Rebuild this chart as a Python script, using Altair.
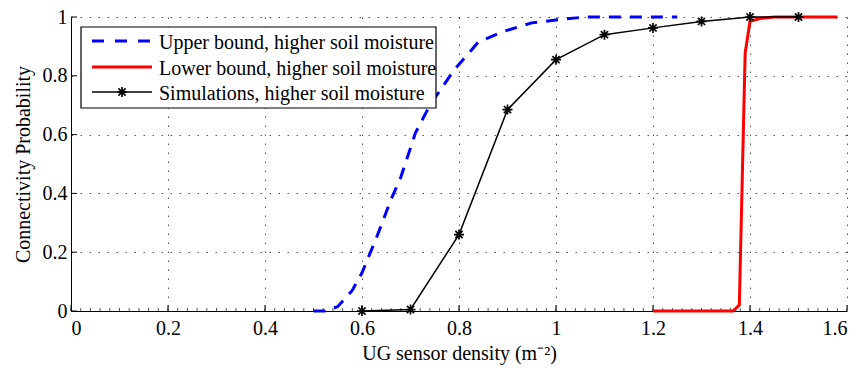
import altair as alt
import pandas as pd

# ---------------- data ----------------
series_names = [
    "Upper bound, higher soil moisture",
    "Lower bound, higher soil moisture",
    "Simulations, higher soil moisture",
]

upper_x = [0.50, 0.525, 0.55, 0.58, 0.60, 0.63, 0.66, 0.68, 0.71, 0.74, 0.79, 0.84, 0.89, 0.95, 1.00, 1.06, 1.25]
upper_y = [0.00, 0.00, 0.015, 0.07, 0.13, 0.25, 0.38, 0.455, 0.605, 0.70, 0.82, 0.915, 0.95, 0.98, 0.99, 1.00, 1.00]

lower_x = [1.20, 1.365, 1.378, 1.39, 1.40, 1.42, 1.45, 1.58]
lower_y = [0.00, 0.00, 0.02, 0.877, 0.985, 0.995, 1.00, 1.00]

sim_x = [0.6, 0.7, 0.8, 0.9, 1.0, 1.1, 1.2, 1.3, 1.4, 1.5]
sim_y = [0.0, 0.005, 0.26, 0.685, 0.855, 0.94, 0.963, 0.985, 1.0, 1.0]

x_ticks = [0, 0.2, 0.4, 0.6, 0.8, 1.0, 1.2, 1.4, 1.6]
y_ticks = [0, 0.2, 0.4, 0.6, 0.8, 1.0]
x_minor = [round(i * 0.02, 2) for i in range(81)]

x_title = "UG sensor density (m\u207b\u00b2)"
y_title = "Connectivity Probability"

# ---------------- styling ----------------
W, H = 776, 294
FONT = "Liberation Serif"
FS = 20
ASTERISK = "M-1,0L1,0M0,-1L0,1M-0.72,-0.72L0.72,0.72M-0.72,0.72L0.72,-0.72"

xs = alt.Scale(domain=[0, 1.6], nice=False, zero=False)
ys = alt.Scale(domain=[0, 1], nice=False)

x_axis = alt.Axis(values=x_ticks, format="~g", title=x_title, labelPadding=7,
                  titlePadding=5)
y_axis = alt.Axis(values=y_ticks, format="~g", title=y_title, labelPadding=4,
                  titlePadding=9)

def xenc():
    return alt.X("x:Q", scale=xs, axis=x_axis)

def yenc():
    return alt.Y("y:Q", scale=ys, axis=y_axis)

upper_df = pd.DataFrame({"x": upper_x, "y": upper_y})
lower_df = pd.DataFrame({"x": lower_x, "y": lower_y})
sim_df = pd.DataFrame({"x": sim_x, "y": sim_y})

upper = alt.Chart(upper_df).mark_line(color="#0000ff", strokeWidth=3, strokeDash=[12, 9]).encode(
    x=xenc(), y=yenc())
lower = alt.Chart(lower_df).mark_line(color="#ff0000", strokeWidth=3).encode(
    x=xenc(), y=yenc())
sim_line = alt.Chart(sim_df).mark_line(color="black", strokeWidth=1.5).encode(
    x=xenc(), y=yenc())
sim_pts = alt.Chart(sim_df).mark_point(shape=ASTERISK, size=100, filled=False,
                                       stroke="black", strokeWidth=1.7, opacity=1).encode(
    x=xenc(), y=yenc())

# inward ticks
xt_df = pd.DataFrame({"x": x_ticks})
xm_df = pd.DataFrame({"x": x_minor})
yt_df = pd.DataFrame({"y": y_ticks})
x_major = alt.Chart(xt_df).mark_rule(color="black", strokeWidth=1).encode(
    x=xenc(), y=alt.value(H), y2=alt.value(H - 6))
x_min = alt.Chart(xm_df).mark_rule(color="#555", strokeWidth=1).encode(
    x=xenc(), y=alt.value(H), y2=alt.value(H - 3))
y_major = alt.Chart(yt_df).mark_rule(color="black", strokeWidth=1).encode(
    y=yenc(), x=alt.value(0), x2=alt.value(6))

# legend
one = pd.DataFrame({"a": [0]})
LX0, LX1, LY0, LY1 = 10, 365, 10, 91
row_y = [24, 50, 75]
line_x0, line_x1, text_x = 21, 81, 88
leg_box = alt.Chart(one).mark_rect(fill="white", stroke="black", strokeWidth=1.2).encode(
    x=alt.value(LX0), x2=alt.value(LX1), y=alt.value(LY0), y2=alt.value(LY1))
leg_l1 = alt.Chart(one).mark_rule(color="#0000ff", strokeWidth=3, strokeDash=[12, 11]).encode(
    x=alt.value(line_x0), x2=alt.value(line_x1), y=alt.value(row_y[0]))
leg_l2 = alt.Chart(one).mark_rule(color="#ff0000", strokeWidth=3).encode(
    x=alt.value(line_x0), x2=alt.value(line_x1), y=alt.value(row_y[1]))
leg_l3 = alt.Chart(one).mark_rule(color="black", strokeWidth=1.5).encode(
    x=alt.value(line_x0), x2=alt.value(line_x1), y=alt.value(row_y[2]))
leg_p3 = alt.Chart(one).mark_point(shape=ASTERISK, size=100, filled=False, stroke="black",
                                   strokeWidth=1.7, opacity=1).encode(
    x=alt.value((line_x0 + line_x1) / 2), y=alt.value(row_y[2]))
leg_texts = [
    alt.Chart(one).mark_text(align="left", baseline="middle", font=FONT, fontSize=FS,
                             color="black").encode(
        x=alt.value(text_x), y=alt.value(row_y[i] + 2), text=alt.value(series_names[i]))
    for i in range(3)
]

chart = alt.layer(
    x_min, x_major, y_major, upper, lower, sim_line, sim_pts,
    leg_box, leg_l1, leg_l2, leg_l3, leg_p3, *leg_texts
).properties(
    width=W, height=H,
    autosize=alt.AutoSizeParams(type="none"),
    padding={"left": 71, "top": 17, "right": 19, "bottom": 62},
    background="white",
).configure_view(stroke=None).configure_axis(
    domainColor="black", domainWidth=1, ticks=False,
    grid=True, gridColor="#555", gridDash=[1.5, 7.5], gridOpacity=1, gridWidth=1,
    labelFont=FONT, labelFontSize=FS, labelColor="black",
    titleFont=FONT, titleFontSize=FS, titleFontWeight="normal", titleColor="black",
)

chart.save("out.html", embed_options={"renderer": "svg", "actions": False})
